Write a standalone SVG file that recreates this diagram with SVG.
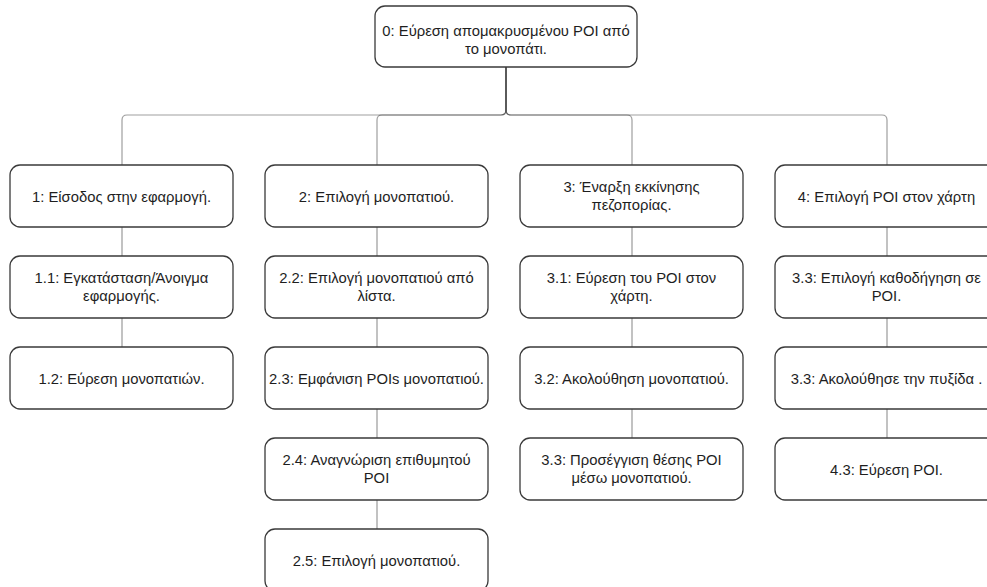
<svg xmlns="http://www.w3.org/2000/svg" width="987" height="587" viewBox="0 0 987 587">
  <style>
    .box { fill: #ffffff; stroke: #3a3a3a; stroke-width: 1.3; }
    .lbl { font-family: "Liberation Sans", Arial, Helvetica, sans-serif; font-size: 14.8px; fill: #1e1e1e; text-anchor: middle; }
    .edge { fill: none; stroke: #000000; stroke-opacity: 0.38; stroke-width: 1.2; }
    .link { fill: none; stroke: #9a9a9a; stroke-width: 1.2; }
  </style>
  <rect width="987" height="587" fill="#ffffff"/>

  <!-- connectors -->
  <g id="connectors">
    <!-- root to first level (overlapping shared trunks) -->
    <path class="edge" d="M506,67 V110 Q506,115 501,115 H127 Q122,115 122,120 V165"/>
    <path class="edge" d="M506,67 V110 Q506,115 501,115 H382 Q377,115 377,120 V165"/>
    <path class="edge" d="M506,67 V110 Q506,115 511,115 H627 Q632,115 632,120 V165"/>
    <path class="edge" d="M506,67 V110 Q506,115 511,115 H882 Q887,115 887,120 V165"/>
    <!-- column links -->
    <path class="link" d="M122,227 V256 M122,318 V347"/>
    <path class="link" d="M377,227 V256 M377,318 V347 M377,409 V438 M377,500 V529"/>
    <path class="link" d="M632,227 V256 M632,318 V347 M632,409 V438"/>
    <path class="link" d="M887,227 V256 M887,318 V347 M887,409 V438"/>
  </g>

  <!-- root -->
  <g id="n0">
    <rect class="box" x="375" y="6" width="262" height="61" rx="10"/>
    <text class="lbl" x="506" y="36">0: Εύρεση απομακρυσμένου POI από</text>
    <text class="lbl" x="506" y="54">το μονοπάτι.</text>
  </g>

  <!-- column 1 -->
  <g id="n1">
    <rect class="box" x="10" y="165" width="223" height="62" rx="10"/>
    <text class="lbl" x="121.5" y="201.5">1: Είσοδος στην εφαρμογή.</text>
  </g>
  <g id="n1_1">
    <rect class="box" x="10" y="256" width="223" height="62" rx="10"/>
    <text class="lbl" x="121.5" y="283">1.1: Εγκατάσταση/Άνοιγμα</text>
    <text class="lbl" x="121.5" y="301">εφαρμογής.</text>
  </g>
  <g id="n1_2">
    <rect class="box" x="10" y="347" width="223" height="62" rx="10"/>
    <text class="lbl" x="121.5" y="383.5">1.2: Εύρεση μονοπατιών.</text>
  </g>

  <!-- column 2 -->
  <g id="n2">
    <rect class="box" x="265" y="165" width="223" height="62" rx="10"/>
    <text class="lbl" x="376.5" y="201.5">2: Επιλογή μονοπατιού.</text>
  </g>
  <g id="n2_2">
    <rect class="box" x="265" y="256" width="223" height="62" rx="10"/>
    <text class="lbl" x="376.5" y="283">2.2: Επιλογή μονοπατιού από</text>
    <text class="lbl" x="376.5" y="301">λίστα.</text>
  </g>
  <g id="n2_3">
    <rect class="box" x="265" y="347" width="223" height="62" rx="10"/>
    <text class="lbl" x="376.5" y="383.5">2.3: Εμφάνιση POIs μονοπατιού.</text>
  </g>
  <g id="n2_4">
    <rect class="box" x="265" y="438" width="223" height="62" rx="10"/>
    <text class="lbl" x="376.5" y="465">2.4: Αναγνώριση επιθυμητού</text>
    <text class="lbl" x="376.5" y="483">POI</text>
  </g>
  <g id="n2_5">
    <rect class="box" x="265" y="529" width="223" height="62" rx="10"/>
    <text class="lbl" x="376.5" y="565.5">2.5: Επιλογή μονοπατιού.</text>
  </g>

  <!-- column 3 -->
  <g id="n3">
    <rect class="box" x="520" y="165" width="223" height="62" rx="10"/>
    <text class="lbl" x="631.5" y="192">3: Έναρξη εκκίνησης</text>
    <text class="lbl" x="631.5" y="210">πεζοπορίας.</text>
  </g>
  <g id="n3_1">
    <rect class="box" x="520" y="256" width="223" height="62" rx="10"/>
    <text class="lbl" x="631.5" y="283">3.1: Εύρεση του POI στον</text>
    <text class="lbl" x="631.5" y="301">χάρτη.</text>
  </g>
  <g id="n3_2">
    <rect class="box" x="520" y="347" width="223" height="62" rx="10"/>
    <text class="lbl" x="631.5" y="383.5">3.2: Ακολούθηση μονοπατιού.</text>
  </g>
  <g id="n3_3">
    <rect class="box" x="520" y="438" width="223" height="62" rx="10"/>
    <text class="lbl" x="631.5" y="465">3.3: Προσέγγιση θέσης POI</text>
    <text class="lbl" x="631.5" y="483">μέσω μονοπατιού.</text>
  </g>

  <!-- column 4 -->
  <g id="n4">
    <rect class="box" x="775" y="165" width="223" height="62" rx="10"/>
    <text class="lbl" x="886.5" y="201.5">4: Επιλογή POI στον χάρτη</text>
  </g>
  <g id="n4_1">
    <rect class="box" x="775" y="256" width="223" height="62" rx="10"/>
    <text class="lbl" x="886.5" y="283">3.3: Επιλογή καθοδήγηση σε</text>
    <text class="lbl" x="886.5" y="301">POI.</text>
  </g>
  <g id="n4_2">
    <rect class="box" x="775" y="347" width="223" height="62" rx="10"/>
    <text class="lbl" x="886.5" y="383.5">3.3: Ακολούθησε την πυξίδα .</text>
  </g>
  <g id="n4_3">
    <rect class="box" x="775" y="438" width="223" height="62" rx="10"/>
    <text class="lbl" x="886.5" y="474.5">4.3: Εύρεση POI.</text>
  </g>
</svg>
